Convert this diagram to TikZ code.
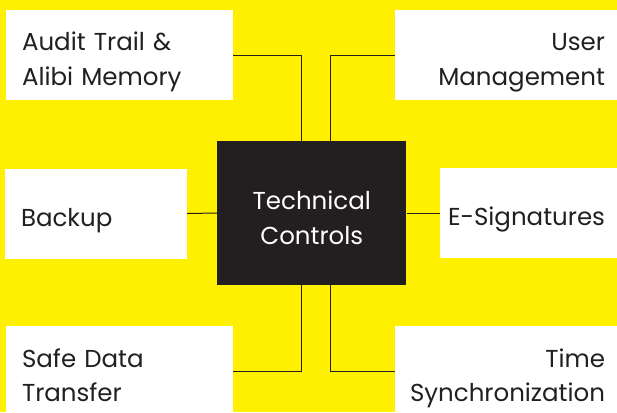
\documentclass[tikz,border=0pt]{standalone}
\usepackage{fontspec}
\setmainfont{Poppins}
\usepackage{xcolor}
\usetikzlibrary{positioning,calc}
\definecolor{bgyellow}{HTML}{FFF000}
\definecolor{inkdark}{HTML}{231F20}

\begin{document}
\begin{tikzpicture}[
    x=1pt, y=-1pt,
    itembox/.style={rectangle, fill=white, text=inkdark, minimum height=90pt, font=\fontsize{24.5}{34}\selectfont},
    itemleft/.style={itembox, inner xsep=16pt, align=left},
    itemright/.style={itembox, inner xsep=12pt, align=right},
    twoline/.style={text height=18pt, text depth=26pt},
    oneline/.style={text height=27pt, text depth=2pt},
    hubnode/.style={rectangle, fill=inkdark, text=white, minimum width=189pt, minimum height=144pt, text width=170pt, align=center, text height=18pt, text depth=26pt, font=\fontsize{24.5}{35}\selectfont},
    link/.style={draw=inkdark, line width=1pt}
]
    \fill[bgyellow] (0,0) rectangle (617,412);
    \useasboundingbox (0,0) rectangle (617,412);

    \node[hubnode] (hub) at (311.8,213) {Technical\\Controls};

    \node[itemleft, twoline, text width=195pt] (audit) at (119.5,55) {Audit Trail \&\\Alibi Memory};
    \node[itemleft, oneline, text width=150pt] (backup) at (96,213.5) {Backup};
    \node[itemleft, twoline, text width=195pt] (safe) at (119.5,371) {Safe Data\\Transfer};

    \node[itemright, twoline, text width=198pt] (user) at (506,55) {User\\Management};
    \node[itemright, oneline, text width=153pt] (esig) at (528.5,213) {\makebox[153pt][r]{E-Signatures}};
    \node[itemright, twoline, text width=198pt] (time) at (506,371) {Time\\Synchronization};

    \draw[link] (audit.east) -| ([xshift=-10.5pt]hub.north);
    \draw[link] (user.west) -| ([xshift=19pt]hub.north);
    \draw[link] (backup.east) -- (hub.west);
    \draw[link] (esig.west) -- (hub.east);
    \draw[link] (safe.east) -| ([xshift=-10.5pt]hub.south);
    \draw[link] (time.west) -| ([xshift=19pt]hub.south);
\end{tikzpicture}
\end{document}
